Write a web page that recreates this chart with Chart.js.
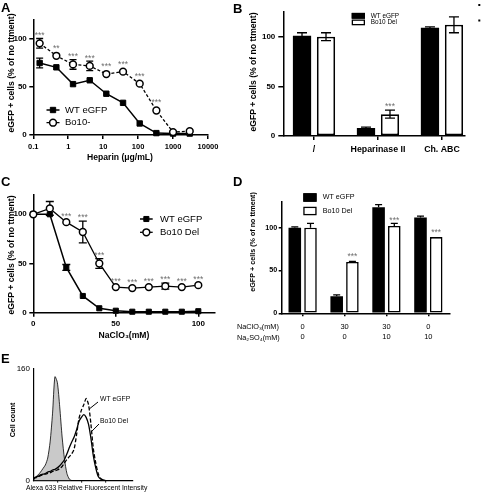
<!DOCTYPE html>
<html>
<head>
<meta charset="utf-8">
<script src="https://cdn.jsdelivr.net/npm/chart.js@4.4.1/dist/chart.umd.min.js"></script>
<style>
  html, body { margin: 0; padding: 0; background: #fff; }
  #wrap { position: relative; width: 481px; height: 494px; overflow: hidden; }
  canvas { position: absolute; left: 0; top: 0; }
</style>
</head>
<body>
<div id="wrap">
  <canvas id="chartA" width="481" height="494"></canvas>
  <canvas id="chartB" width="481" height="494"></canvas>
  <canvas id="chartC" width="481" height="494"></canvas>
  <canvas id="chartD" width="481" height="494"></canvas>
  <canvas id="chartE" width="481" height="494"></canvas>
</div>
<script>
// A - heparin competition
const heparinDose = [0.152, 0.457, 1.37, 4.12, 12.3, 37, 111, 333, 1000, 3000];
const heparinTicks = [0.1, 1, 10, 100, 1000, 10000];
const heparinTickLabels = ['0.1', '1', '10', '100', '1000', '10000'];
const heparinWT = [75, 70.5, 53, 57, 43, 33.5, 12, 2, 1.5, 1.5];
const heparinWTErr = [5, 0, 0, 0, 0, 0, 0, 0, 0, 0];
const heparinBo = [95.5, 82.5, 73.5, 72, 63.5, 66, 53.5, 25.5, 3, 4];
const heparinBoErr = [5, 0, 5, 5, 0, 0, 0, 0, 0, 0];
const heparinStars = ['***', '**', '***', '***', '***', '***', '***', '***', '', ''];

// B - enzyme treatment
const enzymeCats = ['/', 'Heparinase II', 'Ch. ABC'];
const enzymeWT = [101, 8, 109];
const enzymeWTErr = [3, 1, 1];
const enzymeBo = [100, 22, 112];
const enzymeBoErr = [4, 4, 8];
const enzymeStars = ['', '***', ''];

// C - chlorate dose
const chlorateDose = [0, 10, 20, 30, 40, 50, 60, 70, 80, 90, 100];
const chlorateWT = [100, 100, 46, 17, 4.5, 2, 1, 1, 1, 1, 1.5];
const chlorateWTErr = [0, 0, 3, 0, 0, 0, 0, 0, 0, 0, 0];
const chlorateBo = [100, 106, 92, 82, 50, 26, 25, 26, 27, 26, 28];
const chlorateBoErr = [0, 7, 0, 11, 5, 0, 0, 0, 3, 0, 0];
const chlorateStars = ['', '', '***', '***', '***', '***', '***', '***', '***', '***', '***'];

// D - chlorate / sulfate rescue
const rescueChlorate = ['0', '30', '30', '0'];
const rescueSulfate = ['0', '0', '10', '10'];
const rescueWT = [100, 20, 124, 112];
const rescueWTErr = [1, 1.5, 3, 1.5];
const rescueBo = [100, 60, 102, 89];
const rescueBoErr = [5, 0.5, 3, 0];
const rescueStars = ['', '***', '***', '***'];

// E - flow histograms
const histBin = [0, 0.1, 0.2, 0.3, 0.4, 0.5, 0.6, 0.7, 0.8, 0.9, 1.0, 1.1, 1.2, 1.3, 1.4, 1.5,
                 1.6, 1.7, 1.8, 1.9, 2.0, 2.1, 2.2, 2.3, 2.4, 2.5, 2.6, 2.7, 2.8, 2.9, 3.0];
const histControl = [0, 5, 8, 12, 17, 22, 32, 55, 95, 148, 140, 105, 62, 30, 10, 2,
                     0, 0, 0, 0, 0, 0, 0, 0, 0, 0, 0, 0, 0, 0, 0];
const histWT = [2, 4, 5, 7, 8, 9, 10, 11, 13, 14, 15, 17, 20, 25, 30, 34,
                38, 45, 65, 88, 100, 108, 117, 108, 80, 45, 25, 10, 3, 1, 0];
const histBo = [3, 5, 6, 8, 9, 10, 12, 13, 15, 16, 18, 21, 25, 30, 38, 47,
                55, 62, 72, 84, 90, 94, 90, 80, 60, 35, 18, 6, 2, 1, 0];

const W = 481, H = 494, YW = 30, XH = 34;
const FONT = '"Liberation Sans", Arial, Helvetica, sans-serif';

function pad(a) {
  return { left: a.l - YW, top: a.t, right: W - a.r, bottom: H - a.b - XH };
}
function fnt(size, weight) {
  return { family: FONT, size: size, weight: weight || 'bold' };
}
function xy(xs, ys) {
  return ys.map((v, i) => ({ x: xs[i], y: v }));
}

function axis(min, max, ticks, labels, o) {
  return {
    type: o.type || 'linear', min: min, max: max, offset: false,
    afterFit: o.horizontal ? (s => { s.height = XH; }) : (s => { s.width = YW; }),
    afterBuildTicks: s => { s.ticks = ticks.map(v => ({ value: v })); },
    border: { display: true, color: '#000', width: o.lw || 1.5 },
    grid: { display: true, drawOnChartArea: false, drawTicks: o.tick > 0, tickLength: o.tick || 0,
            color: '#000', lineWidth: o.lw || 1.5, offset: false },
    ticks: { color: '#000', font: o.font, padding: o.pad, autoSkip: false, maxRotation: 0, minRotation: 0,
             callback: (v, i) => labels[i] }
  };
}

function valueAt(chart, di, i) {
  return chart.getDatasetMeta(di).controller.getParsed(i).y;
}

function drawErrors(chart, o) {
  const ctx = chart.ctx, ys = chart.scales.y;
  chart.data.datasets.forEach((ds, di) => {
    if (!ds.errors) return;
    const meta = chart.getDatasetMeta(di);
    ctx.save();
    ctx.strokeStyle = '#000';
    ctx.lineWidth = o.errWidth || 1.3;
    meta.data.forEach((el, i) => {
      const e = ds.errors[i];
      if (!e) return;
      const v = valueAt(chart, di, i);
      const top = ys.getPixelForValue(v + e);
      const bot = ys.getPixelForValue(o.errUpOnly ? v : v - e);
      const h = o.cap / 2;
      ctx.beginPath();
      ctx.moveTo(el.x, top); ctx.lineTo(el.x, bot);
      ctx.moveTo(el.x - h, top); ctx.lineTo(el.x + h, top);
      if (!o.errUpOnly) { ctx.moveTo(el.x - h, bot); ctx.lineTo(el.x + h, bot); }
      ctx.stroke();
    });
    ctx.restore();
  });
}

function drawStars(chart, o) {
  const ctx = chart.ctx, ys = chart.scales.y;
  const size = o.starSize || 8.5;
  chart.data.datasets.forEach((ds, di) => {
    if (!ds.stars) return;
    const meta = chart.getDatasetMeta(di);
    ctx.save();
    ctx.fillStyle = '#6e6e6e';
    ctx.font = size + 'px ' + FONT;
    ctx.textAlign = 'center';
    ctx.textBaseline = 'alphabetic';
    meta.data.forEach((el, i) => {
      const s = ds.stars[i];
      if (!s) return;
      const v = valueAt(chart, di, i);
      const e = (ds.errors && ds.errors[i]) || 0;
      const yc = Math.min(ys.getPixelForValue(v + e) - o.starGap, ys.getPixelForValue(v) - o.starGap2);
      ctx.fillText(s, el.x, yc + size * 0.58);
    });
    ctx.restore();
  });
}

function marker(ctx, style, x, y, r, fill, bw) {
  ctx.save();
  ctx.fillStyle = fill;
  ctx.strokeStyle = '#000';
  ctx.lineWidth = bw;
  ctx.setLineDash([]);
  ctx.beginPath();
  if (style === 'rect') {
    const s = Math.SQRT1_2 * r;
    ctx.rect(x - s, y - s, 2 * s, 2 * s);
  } else {
    ctx.arc(x, y, r, 0, Math.PI * 2);
  }
  ctx.fill();
  if (bw) ctx.stroke();
  ctx.restore();
}

function drawLegend(chart, o) {
  const L = o.legend;
  if (!L) return;
  const ctx = chart.ctx;
  L.items.forEach((di, k) => {
    const ds = chart.data.datasets[di];
    const cy = L.y + k * L.dy;
    ctx.save();
    if (L.kind === 'box') {
      ctx.fillStyle = ds.backgroundColor;
      ctx.fillRect(L.x, cy - L.bh / 2, L.bw, L.bh);
      ctx.strokeStyle = '#000';
      ctx.lineWidth = 1.3;
      ctx.strokeRect(L.x + 0.65, cy - L.bh / 2 + 0.65, L.bw - 1.3, L.bh - 1.3);
    } else {
      ctx.strokeStyle = '#000';
      ctx.lineWidth = ds.borderWidth;
      ctx.setLineDash(ds.borderDash || []);
      ctx.beginPath();
      ctx.moveTo(L.x, cy); ctx.lineTo(L.x + L.lw, cy);
      ctx.stroke();
      marker(ctx, ds.pointStyle, L.x + L.lw / 2, cy, ds.pointRadius, ds.pointBackgroundColor, ds.pointBorderWidth);
    }
    ctx.fillStyle = '#000';
    ctx.font = (L.weight || 'normal') + ' ' + L.size + 'px ' + FONT;
    ctx.textAlign = 'left';
    ctx.textBaseline = 'middle';
    ctx.fillText(ds.label, L.tx, cy);
    ctx.restore();
  });
}

function drawTexts(chart, o) {
  const ctx = chart.ctx;
  (o.texts || []).forEach(t => {
    ctx.save();
    ctx.font = (t.w || 'bold') + ' ' + t.s + 'px ' + FONT;
    ctx.fillStyle = '#000';
    ctx.textAlign = t.a || 'center';
    ctx.textBaseline = 'middle';
    ctx.translate(t.x, t.y);
    if (t.r) ctx.rotate(-Math.PI / 2);
    ctx.fillText(t.t, 0, 0);
    ctx.restore();
  });
  (o.dots || []).forEach(d => {
    ctx.fillStyle = '#000';
    ctx.fillRect(d.x - 1, d.y - 1, 2, 2);
  });
  (o.pointers || []).forEach(p => {
    const tx = chart.scales.x.getPixelForValue(p.tx);
    const ty = chart.scales.y.getPixelForValue(p.ty);
    ctx.save();
    ctx.strokeStyle = '#000';
    ctx.lineWidth = 1;
    ctx.beginPath();
    ctx.moveTo(p.x, p.y); ctx.lineTo(tx, ty);
    ctx.stroke();
    ctx.restore();
  });
}

Chart.register({
  id: 'overlay',
  beforeDatasetsDraw(chart, args, o) { if (o.errLayer === 'before') drawErrors(chart, o); },
  afterDatasetsDraw(chart, args, o) {
    if (o.errLayer !== 'before') drawErrors(chart, o);
    drawStars(chart, o);
  },
  afterDraw(chart, args, o) { drawLegend(chart, o); drawTexts(chart, o); }
});

Chart.defaults.font.family = FONT;
Chart.defaults.color = '#000';

const base = {
  responsive: false, animation: false, devicePixelRatio: 1, events: []
};
const noPlug = { legend: { display: false }, tooltip: { enabled: false } };

function wtLine(label, data, err, r) {
  return { label: label, data: data, errors: err, order: 1, clip: false,
           borderColor: '#000', borderWidth: 1.5, tension: 0,
           pointStyle: 'rect', pointRadius: r, pointBackgroundColor: '#000',
           pointBorderColor: '#000', pointBorderWidth: 1 };
}
function boLine(label, data, err, stars, dash) {
  return { label: label, data: data, errors: err, stars: stars, order: 0, clip: false,
           borderColor: '#000', borderWidth: 1.3, borderDash: dash, tension: 0,
           pointStyle: 'circle', pointRadius: 3.4, pointBackgroundColor: '#fff',
           pointBorderColor: '#000', pointBorderWidth: 1.5 };
}

// ---------- A ----------
const areaA = { l: 33.3, t: 19.8, r: 208, b: 135 };
new Chart(document.getElementById('chartA'), {
  type: 'line',
  data: { datasets: [
    wtLine('WT eGFP', xy(heparinDose, heparinWT), heparinWTErr, 3.8),
    boLine('Bo10-', xy(heparinDose, heparinBo), heparinBoErr, heparinStars, [3, 2])
  ] },
  options: Object.assign({}, base, {
    layout: { padding: pad(areaA) },
    scales: {
      x: axis(0.1, 10000, heparinTicks, heparinTickLabels,
              { type: 'logarithmic', horizontal: true, tick: 4, pad: 3, font: fnt(7.5) }),
      y: axis(0, 120, [0, 50, 100], ['0', '50', '100'], { tick: 4, pad: 2.5, font: fnt(8) })
    },
    plugins: Object.assign({}, noPlug, { overlay: {
      errLayer: 'before', cap: 7, starGap: 5.5, starGap2: 10, starSize: 8.5,
      legend: { items: [0, 1], x: 46.5, lw: 13, tx: 65, y: 110, dy: 12.7, size: 9.5 },
      texts: [
        { t: 'A', x: 1, y: 8, s: 13, a: 'left' },
        { t: 'eGFP + cells (% of no ttment)', x: 12, y: 73, s: 8.6, r: true },
        { t: 'Heparin (\u03bcg/mL)', x: 120, y: 157.5, s: 8.6 }
      ]
    } })
  })
});

// ---------- B ----------
const areaB = { l: 283.3, t: 11.9, r: 465, b: 136 };
new Chart(document.getElementById('chartB'), {
  type: 'bar',
  data: { datasets: [
    { label: 'WT eGFP', data: xy([0, 1, 2], enzymeWT), errors: enzymeWTErr,
      backgroundColor: '#000', borderColor: '#000', borderWidth: 0,
      categoryPercentage: 0.75, barPercentage: 0.76 },
    { label: 'Bo10 Del', data: xy([0, 1, 2], enzymeBo), errors: enzymeBoErr, stars: enzymeStars,
      backgroundColor: '#fff', borderColor: '#000', borderWidth: 1.8, borderSkipped: false,
      categoryPercentage: 0.75, barPercentage: 0.76 }
  ] },
  options: Object.assign({}, base, {
    layout: { padding: pad(areaB) },
    scales: {
      x: axis(-0.48, 2.36, [0, 1, 2], enzymeCats, { horizontal: true, tick: 4, pad: 4, font: fnt(8.8) }),
      y: axis(0, 125, [0, 50, 100], ['0', '50', '100'], { tick: 5, pad: 3, font: fnt(8) })
    },
    plugins: Object.assign({}, noPlug, { overlay: {
      cap: 10, starGap: 6.5, starGap2: 8, starSize: 8.5,
      legend: { kind: 'box', items: [0, 1], x: 351.7, bw: 13.3, bh: 5.8, tx: 370.7, y: 15.8, dy: 6.6, size: 6.4 },
      texts: [
        { t: 'B', x: 233, y: 9, s: 13, a: 'left' },
        { t: 'eGFP + cells (% of no ttment)', x: 253.5, y: 72, s: 8.6, r: true }
      ],
      dots: [{ x: 479.3, y: 5 }, { x: 479.3, y: 20.5 }]
    } })
  })
});

// ---------- C ----------
const areaC = { l: 33.3, t: 194.6, r: 214.8, b: 312.7 };
new Chart(document.getElementById('chartC'), {
  type: 'line',
  data: { datasets: [
    wtLine('WT eGFP', xy(chlorateDose, chlorateWT), chlorateWTErr, 3.6),
    boLine('Bo10 Del', xy(chlorateDose, chlorateBo), chlorateBoErr, chlorateStars, [])
  ] },
  options: Object.assign({}, base, {
    layout: { padding: pad(areaC) },
    scales: {
      x: axis(0, 110, [0, 50, 100], ['0', '50', '100'], { horizontal: true, tick: 4, pad: 2, font: fnt(8) }),
      y: axis(0, 120, [0, 50, 100], ['0', '50', '100'], { tick: 4, pad: 2.5, font: fnt(8) })
    },
    plugins: Object.assign({}, noPlug, { overlay: {
      errLayer: 'before', cap: 8, starGap: 6, starGap2: 8.5, starSize: 8.5,
      legend: { items: [0, 1], x: 140, lw: 12.7, tx: 160, y: 219, dy: 13.3, size: 9.5 },
      texts: [
        { t: 'C', x: 1, y: 182, s: 13, a: 'left' },
        { t: 'eGFP + cells (% of no ttment)', x: 12, y: 255, s: 8.6, r: true },
        { t: 'NaClO\u2083(mM)', x: 124, y: 335.7, s: 8.6 }
      ]
    } })
  })
});

// ---------- D ----------
const areaD = { l: 281.7, t: 202, r: 449.3, b: 313.3 };
const rescueLabels = rescueChlorate.map((v, i) => [v, rescueSulfate[i]]);
new Chart(document.getElementById('chartD'), {
  type: 'bar',
  data: { labels: rescueLabels, datasets: [
    { label: 'WT eGFP', data: rescueWT, errors: rescueWTErr,
      backgroundColor: '#000', borderColor: '#000', borderWidth: 0,
      categoryPercentage: 0.75, barPercentage: 0.8 },
    { label: 'Bo10 Del', data: rescueBo, errors: rescueBoErr, stars: rescueStars,
      backgroundColor: '#fff', borderColor: '#000', borderWidth: 1.6, borderSkipped: false,
      categoryPercentage: 0.75, barPercentage: 0.8 }
  ] },
  options: Object.assign({}, base, {
    layout: { padding: pad(areaD) },
    scales: {
      x: { type: 'category', offset: true,
           afterFit: s => { s.height = XH; },
           border: { display: true, color: '#000', width: 1.5 },
           grid: { display: true, drawOnChartArea: false, drawTicks: true, tickLength: 3,
                   color: '#000', lineWidth: 1.5, offset: false },
           ticks: { color: '#000', font: { family: FONT, size: 7.5, weight: 'normal', lineHeight: 1.4 },
                    padding: 5, autoSkip: false, maxRotation: 0, minRotation: 0 } },
      y: axis(0, 130, [0, 50, 100], ['0', '50', '100'], { tick: 3, pad: 1.5, font: fnt(7.2) })
    },
    plugins: Object.assign({}, noPlug, { overlay: {
      errUpOnly: true, cap: 7, starGap: 5.5, starGap2: 7.5, starSize: 8.5,
      legend: { kind: 'box', items: [0, 1], x: 303.3, bw: 13.3, bh: 8.5, tx: 322.7, y: 197.5, dy: 13.5, size: 7.2 },
      texts: [
        { t: 'D', x: 233, y: 182, s: 13, a: 'left' },
        { t: 'eGFP + cells (% of no ttment)', x: 253.3, y: 242, s: 7.2, r: true },
        { t: 'NaClO\u2083(mM)', x: 237, y: 327.3, s: 7.3, w: 'normal', a: 'left' },
        { t: 'Na\u2082SO\u2084(mM)', x: 237, y: 337.7, s: 7.3, w: 'normal', a: 'left' }
      ]
    } })
  })
});

// ---------- E ----------
const areaE = { l: 33.3, t: 368.3, r: 132.5, b: 480.5 };
new Chart(document.getElementById('chartE'), {
  type: 'line',
  data: { datasets: [
    { label: 'control', data: xy(histBin, histControl), order: 2, clip: false,
      fill: 'origin', backgroundColor: '#c9c9c9', borderColor: '#000', borderWidth: 0.8,
      pointRadius: 0, tension: 0.25 },
    { label: 'WT eGFP', data: xy(histBin, histWT), order: 1, clip: false, fill: false,
      borderColor: '#000', borderWidth: 1.3, borderDash: [4, 2], pointRadius: 0, tension: 0.25 },
    { label: 'Bo10 Del', data: xy(histBin, histBo), order: 0, clip: false, fill: false,
      borderColor: '#000', borderWidth: 1.3, pointRadius: 0, tension: 0.25 }
  ] },
  options: Object.assign({}, base, {
    layout: { padding: { left: areaE.l - YW, top: areaE.t, right: W - areaE.r, bottom: 0 } },
    scales: {
      x: Object.assign(axis(0, 4.13, [1, 2, 3], ['', '', ''], { horizontal: true, tick: 2, pad: 0, lw: 1.2, font: fnt(6) }),
                       { afterFit: s => { s.height = H - areaE.b; } }),
      y: axis(0, 160, [0, 160], ['0', '160'], { tick: 0, pad: 3.3, lw: 1.2, font: fnt(8, 'normal') })
    },
    plugins: Object.assign({}, noPlug, { overlay: {
      cap: 0, starGap: 0, starGap2: 0,
      texts: [
        { t: 'E', x: 1, y: 359, s: 13, a: 'left' },
        { t: 'Cell count', x: 13.5, y: 420, s: 7.2, r: true },
        { t: 'WT eGFP', x: 100, y: 399.3, s: 6.8, w: 'normal', a: 'left' },
        { t: 'Bo10 Del', x: 100, y: 421, s: 6.8, w: 'normal', a: 'left' },
        { t: 'Alexa 633 Relative Fluorescent Intensity', x: 26, y: 488.3, s: 6.8, w: 'normal', a: 'left' }
      ],
      pointers: [
        { x: 98, y: 402, tx: 2.33, ty: 102 },
        { x: 99, y: 424, tx: 2.43, ty: 70 }
      ]
    } })
  })
});
</script>
</body>
</html>
